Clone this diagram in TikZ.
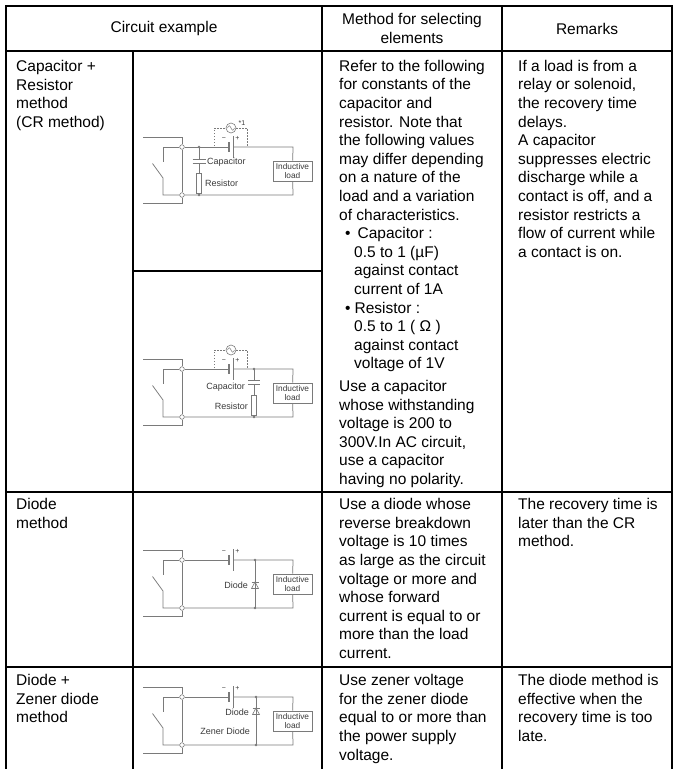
\documentclass[tikz,border=0pt]{standalone}
\usepackage{fontspec}
\setmainfont{Liberation Sans}
\definecolor{wiregray}{HTML}{7A7A7A}
\definecolor{labelgray}{HTML}{3A3A3A}
\tikzset{
  tline/.style={line width=2.6pt, line cap=rect},
  txt/.style={font=\fontsize{15.5}{18.6}\selectfont, inner sep=0pt},
  body/.style={txt, anchor=north west, align=left},
  head/.style={txt, align=center},
  wire/.style={draw=wiregray, line width=0.75pt},
  termc/.style={circle, draw=wiregray, fill=white, line width=0.6pt, inner sep=0pt, minimum size=4.6pt},
  jdot/.style={circle, fill=wiregray, inner sep=0pt, minimum size=2.8pt},
  loadbox/.style={draw=wiregray, fill=white, line width=0.7pt, minimum width=39pt, minimum height=20pt, inner sep=0pt, align=center, font=\fontsize{8.3}{9}\selectfont, text=labelgray},
  resbox/.style={draw=wiregray, fill=white, line width=0.7pt, minimum width=5.5pt, minimum height=20pt, inner sep=0pt},
  clab/.style={font=\fontsize{9}{10}\selectfont, text=labelgray, inner sep=0pt},
  pm/.style={font=\fontsize{7}{8}\selectfont, text=labelgray, inner sep=0pt},
  acsrc/.style={circle, draw=wiregray, fill=white, line width=0.6pt, inner sep=0pt, minimum size=10pt},
  dsh/.style={wire, line width=0.5pt, dash pattern=on 1.5pt off 1.5pt},
}
\newcommand{\cktbase}{%
  \coordinate (otl) at (143,-10);
  \coordinate (otr) at (182,-10);
  \node[termc] (tt) at (182,0) {};
  \node[termc] (tb) at (182,48) {};
  \coordinate (obl) at (143,56);
  \coordinate (obr) at (182,56);
  \coordinate (sa) at (163,0);
  \coordinate (sb) at (163,15);
  \coordinate (sc) at (152.5,16.5);
  \coordinate (sd) at (163,31);
  \coordinate (se) at (163,48);
  \coordinate (bl) at (229,0);
  \coordinate (br) at (233,0);
  \coordinate (rt) at (293,0);
  \coordinate (rb) at (293,48);
  \node[loadbox] (ld) at (292.5,24) {Inductive\\load};
  \draw[wire] (otl) -- (otr) -- (tt);
  \draw[wire] (tt) -- (tb);
  \draw[wire] (tb) -- (obr) -- (obl);
  \draw[wire] (tt) -- (sa) -- (sb);
  \draw[wire] (sc) -- (sd) -- (se) -- (tb);
  \draw[wire] (tt) -- (bl);
  \draw[wire] (br) -- (rt) -- (ld);
  \draw[wire] (ld) -- (rb) -- (tb);
  \draw[wire, line width=1.3pt] (229,-5) -- (229,5);
  \draw[wire] (233,-11) -- (233,11);
  \node[pm] (mi) at (224,-8) {−};
  \node[pm] (pl) at (237.5,-8.5) {+};
}
\newcommand{\acpart}{%
  \node[acsrc] (ac) at (231,-19) {};
  \draw[wire, line width=0.5pt] (227.5,-19) sin (229.25,-21.2) cos (231,-19) sin (232.75,-16.8) cos (234.5,-19);
  \draw[dsh] (214,-1) -- (214,-19) -- (ac);
  \draw[dsh] (ac) -- (247,-19) -- (247,-1);
}
\begin{document}
\begin{tikzpicture}[x=1pt,y=-1pt]
\useasboundingbox (0,0) rectangle (676,769);
% table grid
\draw[tline] (6,769) -- (6,6) -- (672,6) -- (672,769);
\draw[tline] (6,51) -- (672,51);
\draw[tline] (133,51) -- (133,769);
\draw[tline] (322,6) -- (322,769);
\draw[tline] (502,6) -- (502,769);
\draw[tline] (133,271) -- (322,271);
\draw[tline] (6,492) -- (672,492);
\draw[tline] (6,667) -- (672,667);
% header
\node[head] (h1) at (164,28.5) {Circuit example};
\node[head] (h2) at (412,28.5) {Method for selecting\\elements};
\node[head] (h3) at (587,28.5) {Remarks};
% CR row
\node[body] (n1) at (16,58.5) {\strut Capacitor +\\Resistor\\method\\(CR method)};
\node[body] (m1) at (339,58) {\strut Refer to the following\\for constants of the\\capacitor and\\resistor. Note that\\the following values\\may differ depending\\on a nature of the\\load and a variation\\of characteristics.\\\hspace*{6pt}•\hspace*{7pt}Capacitor :\\\hspace*{15pt}0.5 to 1 (µF)\\\hspace*{15pt}against contact\\\hspace*{15pt}current of 1A\\\hspace*{6pt}•\hspace*{4pt}Resistor :\\\hspace*{15pt}0.5 to 1 ( Ω )\\\hspace*{15pt}against contact\\\hspace*{15pt}voltage of 1V\\[4pt]Use a capacitor\\whose withstanding\\voltage is 200 to\\300V.In AC circuit,\\use a capacitor\\having no polarity.};
\node[body] (r1) at (518,58) {\strut If a load is from a\\relay or solenoid,\\the recovery time\\delays.\\A capacitor\\suppresses electric\\discharge while a\\contact is off, and a\\resistor restricts a\\flow of current while\\a contact is on.};
% Diode row
\node[body] (n2) at (16,496.5) {\strut Diode\\method};
\node[body] (m2) at (339,496.5) {\strut Use a diode whose\\reverse breakdown\\voltage is 10 times\\as large as the circuit\\voltage or more and\\whose forward\\current is equal to or\\more than the load\\current.};
\node[body] (r2) at (518,496.5) {\strut The recovery time is\\later than the CR\\method.};
% Zener row
\node[body] (n3) at (16,672.5) {\strut Diode +\\Zener diode\\method};
\node[body] (m3) at (339,672.5) {\strut Use zener voltage\\for the zener diode\\equal to or more than\\the power supply\\voltage.};
\node[body] (r3) at (518,672.5) {\strut The diode method is\\effective when the\\recovery time is too\\late.};
% circuit 1
\begin{scope}[shift={(0,147)}, name prefix=c1-]
  \cktbase
  \acpart
  \node[pm] (star) at (242,-24) {*1};
  \coordinate (jt) at (199,0);
  \coordinate (jb) at (199,48);
  \coordinate (ct) at (199,12);
  \coordinate (cb) at (199,16);
  \node[resbox] (res) at (199,36) {};
  \draw[wire] (jt) -- (ct);
  \draw[wire] (192.5,12) -- (205.5,12);
  \draw[wire] (192.5,16) -- (205.5,16);
  \draw[wire] (cb) -- (res);
  \draw[wire] (res) -- (jb);
  \node[jdot] (d1) at (jt) {};
  \node[jdot] (d2) at (jb) {};
  \node[clab, anchor=west] (lc) at (207,15) {Capacitor};
  \node[clab, anchor=west] (lr) at (205,36) {Resistor};
\end{scope}
% circuit 2
\begin{scope}[shift={(0,369)}, name prefix=c2-]
  \cktbase
  \acpart
  \coordinate (jt) at (254,0);
  \coordinate (jb) at (254,48);
  \coordinate (ct) at (254,11);
  \coordinate (cb) at (254,15);
  \node[resbox] (res) at (254,36) {};
  \draw[wire] (jt) -- (ct);
  \draw[wire] (248,11) -- (260,11);
  \draw[wire] (248,15) -- (260,15);
  \draw[wire] (cb) -- (res);
  \draw[wire] (res) -- (jb);
  \node[jdot] (d1) at (jt) {};
  \node[jdot] (d2) at (jb) {};
  \node[clab, anchor=east] (lc) at (245,18) {Capacitor};
  \node[clab, anchor=east] (lr) at (248,37) {Resistor};
\end{scope}
% circuit 3
\begin{scope}[shift={(0,560)}, name prefix=c3-]
  \cktbase
  \coordinate (jt) at (255,0);
  \coordinate (jb) at (255,48);
  \draw[wire] (jt) -- (jb);
  \draw[wire, line width=0.6pt] (251.5,28.5) -- (258.5,28.5) -- (255,22) -- cycle;
  \draw[wire, line width=0.6pt] (251.5,22) -- (258.5,22);
  \node[jdot] (d1) at (jt) {};
  \node[jdot] (d2) at (jb) {};
  \node[clab, anchor=east] (ldi) at (248,25.5) {Diode};
\end{scope}
% circuit 4
\begin{scope}[shift={(0,697)}, name prefix=c4-]
  \cktbase
  \coordinate (jt) at (256,0);
  \coordinate (jb) at (256,48);
  \draw[wire] (jt) -- (jb);
  \draw[wire, line width=0.6pt] (252.5,17.5) -- (259.5,17.5) -- (256,11) -- cycle;
  \draw[wire, line width=0.6pt] (252.5,11) -- (259.5,11);
  \node[jdot] (d1) at (jt) {};
  \node[jdot] (d2) at (jb) {};
  \node[clab, anchor=east] (ldi) at (249,15) {Diode};
  \node[clab, anchor=east] (lz) at (250,34) {Zener Diode};
\end{scope}
\end{tikzpicture}
\end{document}
